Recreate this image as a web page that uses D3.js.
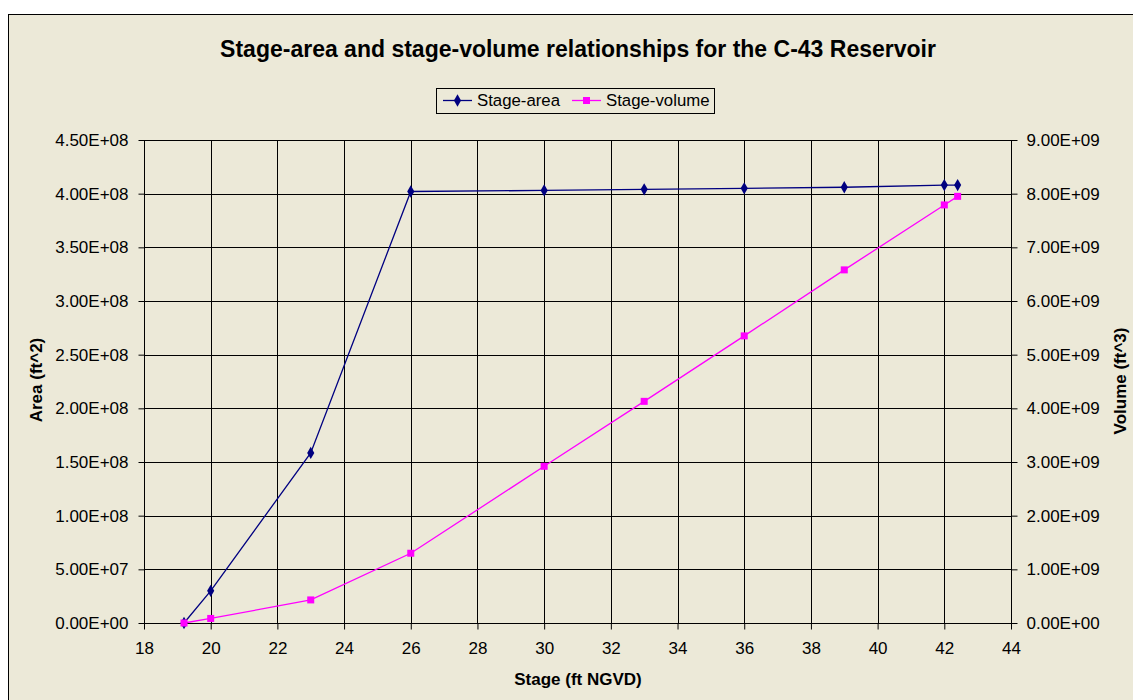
<!DOCTYPE html>
<html>
<head>
<meta charset="utf-8">
<script src="https://cdn.jsdelivr.net/npm/d3@7"></script>
<style>
  html, body { margin: 0; padding: 0; background: #ffffff; }
  svg { display: block; }
  text { font-family: "Liberation Sans", Arial, sans-serif; fill: #000; }
</style>
</head>
<body>
<svg id="chart" width="1133" height="700"></svg>
<script>
// Stage (ft NGVD) for each surveyed level
const stage = [19.2, 20, 23, 26, 30, 33, 36, 39, 42, 42.4];
// Surface area at each stage (ft^2)
const areaValues = [0, 3.0e7, 1.585e8, 4.02e8, 4.03e8, 4.04e8, 4.05e8, 4.06e8, 4.08e8, 4.08e8];
// Stored volume at each stage (ft^3)
const volumeValues = [0, 0.85e8, 4.3e8, 1.3e9, 2.92e9, 4.13e9, 5.35e9, 6.58e9, 7.79e9, 7.95e9];

const xTicks = [18, 20, 22, 24, 26, 28, 30, 32, 34, 36, 38, 40, 42, 44];
const areaTicks = [0, 0.5e8, 1.0e8, 1.5e8, 2.0e8, 2.5e8, 3.0e8, 3.5e8, 4.0e8, 4.5e8];
const volumeTicks = [0, 1e9, 2e9, 3e9, 4e9, 5e9, 6e9, 7e9, 8e9, 9e9];

const title = "Stage-area and stage-volume relationships for the C-43 Reservoir";
const seriesNames = ["Stage-area", "Stage-volume"];

const bg = "#ECE9D8";
const areaColor = "#000080";
const volColor = "#FF00FF";
const FONT = "Liberation Sans, Arial, sans-serif";

const svg = d3.select("#chart");

// chart frame
svg.append("rect")
  .attr("x", 8.5).attr("y", 14.5)
  .attr("width", 1133).attr("height", 700)
  .attr("fill", bg).attr("stroke", "#000").attr("stroke-width", 1);

const plot = { left: 144, right: 1011, top: 140, bottom: 623 };

const x = d3.scaleLinear().domain([18, 44]).range([plot.left, plot.right]);
const yA = d3.scaleLinear().domain([0, 4.5e8]).range([plot.bottom, plot.top]);
const yV = d3.scaleLinear().domain([0, 9e9]).range([plot.bottom, plot.top]);

const sci = v => {
  if (v === 0) return "0.00E+00";
  const e = Math.floor(Math.log10(v));
  const m = v / Math.pow(10, e);
  return m.toFixed(2) + "E+" + String(e).padStart(2, "0");
};

// gridlines
const grid = svg.append("g").attr("stroke", "#000").attr("stroke-width", 1);
grid.selectAll("line.v").data(xTicks).join("line")
  .attr("x1", d => Math.round(x(d)) + 0.5).attr("x2", d => Math.round(x(d)) + 0.5)
  .attr("y1", plot.top).attr("y2", plot.bottom);
grid.selectAll("line.h").data(areaTicks).join("line")
  .attr("x1", plot.left).attr("x2", plot.right)
  .attr("y1", d => Math.round(yA(d)) + 0.5).attr("y2", d => Math.round(yA(d)) + 0.5);

// plot border
svg.append("rect")
  .attr("x", plot.left + 0.5).attr("y", plot.top + 0.5)
  .attr("width", plot.right - plot.left).attr("height", plot.bottom - plot.top)
  .attr("fill", "none").attr("stroke", "#000").attr("stroke-width", 1);

// axes
const styleAxis = size => g => {
  g.select(".domain").remove();
  g.selectAll(".tick line").attr("stroke", "#000");
  g.selectAll(".tick text").attr("font-size", size).attr("fill", "#000")
    .attr("font-family", FONT);
};

svg.append("g")
  .attr("transform", `translate(0,${plot.bottom + 0.5})`)
  .call(d3.axisBottom(x).tickValues(xTicks).tickSize(6).tickPadding(12).tickFormat(d3.format("d")))
  .call(styleAxis(17));

svg.append("g")
  .attr("transform", `translate(${plot.left + 0.5},0)`)
  .call(d3.axisLeft(yA).tickValues(areaTicks).tickSize(6).tickPadding(10).tickFormat(sci))
  .call(styleAxis(17));

svg.append("g")
  .attr("transform", `translate(${plot.right + 0.5},0)`)
  .call(d3.axisRight(yV).tickValues(volumeTicks).tickSize(6).tickPadding(9).tickFormat(sci))
  .call(styleAxis(17));

// series lines
const areaData = stage.map((s, i) => [s, areaValues[i]]);
const volData = stage.map((s, i) => [s, volumeValues[i]]);

svg.append("path").datum(areaData)
  .attr("fill", "none").attr("stroke", areaColor).attr("stroke-width", 1.3)
  .attr("d", d3.line().x(d => x(d[0])).y(d => yA(d[1])));

svg.append("path").datum(volData)
  .attr("fill", "none").attr("stroke", volColor).attr("stroke-width", 1.3)
  .attr("d", d3.line().x(d => x(d[0])).y(d => yV(d[1])));

const diamond = d3.symbol().type(d3.symbolDiamond).size(44);
svg.append("g").selectAll("path").data(areaData).join("path")
  .attr("d", diamond)
  .attr("transform", d => `translate(${x(d[0])},${yA(d[1])})`)
  .attr("fill", areaColor);

svg.append("g").selectAll("rect").data(volData).join("rect")
  .attr("x", d => x(d[0]) - 3.5).attr("y", d => yV(d[1]) - 3.5)
  .attr("width", 7).attr("height", 7)
  .attr("fill", volColor);

// title
svg.append("text")
  .attr("x", 578).attr("y", 57)
  .attr("text-anchor", "middle")
  .attr("font-size", 23).attr("font-weight", "bold")
  .text(title);

// axis titles
svg.append("text")
  .attr("x", 578).attr("y", 685)
  .attr("text-anchor", "middle")
  .attr("font-size", 17).attr("font-weight", "bold")
  .text("Stage (ft NGVD)");

svg.append("text")
  .attr("transform", `translate(42,380) rotate(-90)`)
  .attr("text-anchor", "middle")
  .attr("font-size", 17).attr("font-weight", "bold")
  .text("Area (ft^2)");

svg.append("text")
  .attr("transform", `translate(1126,381) rotate(-90)`)
  .attr("text-anchor", "middle")
  .attr("font-size", 17).attr("font-weight", "bold")
  .text("Volume (ft^3)");

// legend
const legend = svg.append("g");
legend.append("rect")
  .attr("x", 436.5).attr("y", 88.5).attr("width", 278).attr("height", 25)
  .attr("fill", bg).attr("stroke", "#000").attr("stroke-width", 1);

const legItems = [
  { name: seriesNames[0], color: areaColor, kind: "diamond", x0: 443 },
  { name: seriesNames[1], color: volColor, kind: "square", x0: 572 }
];
legItems.forEach(it => {
  const g = legend.append("g");
  g.append("line").attr("x1", it.x0).attr("x2", it.x0 + 29)
    .attr("y1", 100.5).attr("y2", 100.5).attr("stroke", it.color).attr("stroke-width", 1.3);
  if (it.kind === "diamond") {
    g.append("path").attr("d", diamond).attr("transform", `translate(${it.x0 + 14.5},100.5)`).attr("fill", it.color);
  } else {
    g.append("rect").attr("x", it.x0 + 14.5 - 3.5).attr("y", 100.5 - 3.5)
      .attr("width", 7).attr("height", 7).attr("fill", it.color);
  }
  g.append("text").attr("x", it.x0 + 34).attr("y", 106)
    .attr("font-size", 16.8).text(it.name);
});
</script>
</body>
</html>
